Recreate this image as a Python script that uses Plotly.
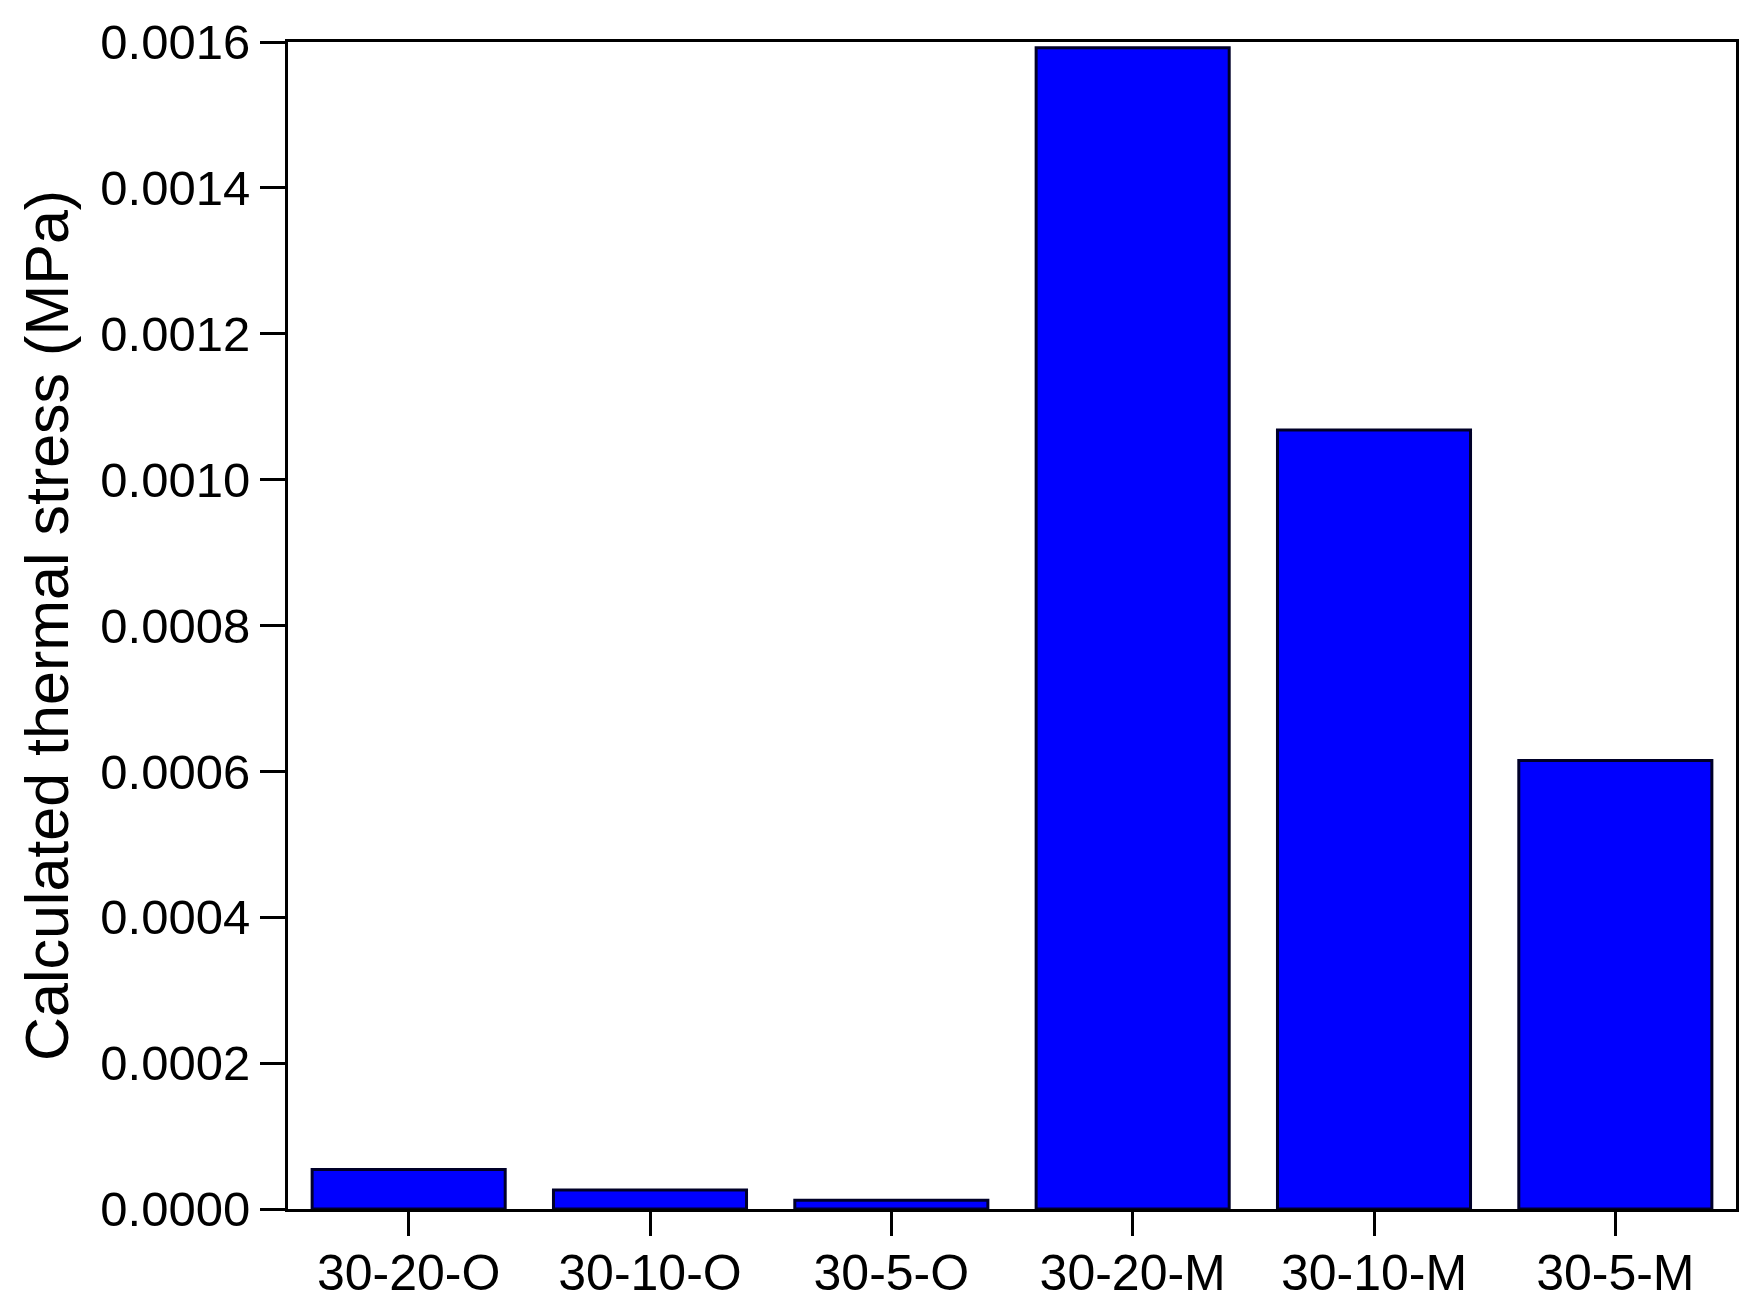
import plotly.graph_objects as go

# sample names and calculated thermal stress (MPa)
samples = ["30-20-O", "30-10-O", "30-5-O", "30-20-M", "30-10-M", "30-5-M"]
stress = [0.000054, 0.000026, 0.000012, 0.001592, 0.001068, 0.000615]

y_ticks = [0.0, 0.0002, 0.0004, 0.0006, 0.0008, 0.0010, 0.0012, 0.0014, 0.0016]

font_name = "Liberation Sans, Arial, sans-serif"

fig = go.Figure()
fig.add_trace(go.Bar(x=samples, y=stress,
                     width=0.8,
                     marker=dict(color="#0000ff",
                                 line=dict(color="#000028", width=3))))

# page body has an 8px margin, so the figure is sized to fit inside the window
fig.update_layout(
    width=1744, height=1299,
    plot_bgcolor="white", paper_bgcolor="white",
    margin=dict(l=280, r=16, t=34, b=98),
    font=dict(family=font_name, size=48, color="black"),
    showlegend=False,
    bargap=0.2,
)
fig.update_xaxes(
    range=[-0.5, 5.5], automargin=False,
    showline=True, linecolor="black", linewidth=3, mirror=True,
    ticks="outside", ticklen=24, tickwidth=3, tickcolor="black",
    ticklabelstandoff=-6,
    showgrid=False, zeroline=False,
    tickfont=dict(size=50),
)
fig.update_yaxes(
    range=[0, 0.0016], automargin=False,
    tickvals=y_ticks, tickformat=".4f",
    showline=True, linecolor="black", linewidth=3, mirror=True,
    ticks="outside", ticklen=25, tickwidth=3, tickcolor="black",
    showgrid=False, zeroline=False,
    tickfont=dict(size=49),
    title=dict(text="Calculated thermal stress (MPa)", font=dict(size=61), standoff=12),
)

fig.write_html("out.html")
